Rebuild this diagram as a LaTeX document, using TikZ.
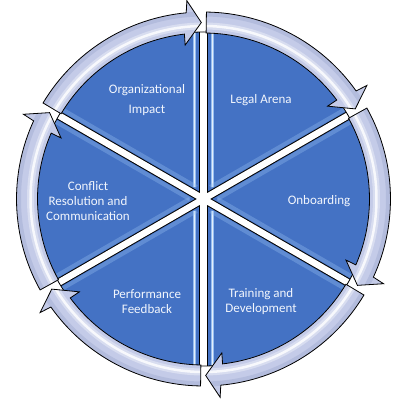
\documentclass[tikz,border=0pt]{standalone}
\usepackage{fontspec}
\setmainfont{Carlito}
\definecolor{wedgeblue}{RGB}{68,114,196}
\definecolor{lav}{RGB}{196,203,232}
\definecolor{lavdark}{RGB}{168,178,214}
\definecolor{stripe}{RGB}{150,190,240}
\definecolor{txt}{RGB}{242,246,253}
% #1 tail angle, #2 tip angle (clockwise arrow)
\newcommand\ringpath[2]{({#1-0.9}:187) arc[start angle={#1-0.9}, end angle={#2+5.3}, radius=187]
  -- ({#2+4.8}:199) -- ({#2+0.7}:176.5) -- ({#2+6.8}:155) -- ({#2+6.6}:166)
  arc[start angle={#2+6.6}, end angle={#1-0.9}, radius=166] -- cycle}
\begin{document}
\begin{tikzpicture}[x=1pt,y=1pt,
  lbl/.style={text=txt, font=\fontsize{13}{15}\selectfont, align=center, inner sep=0pt},
  outline/.style={black, line width=0.8pt, line join=miter}]
\useasboundingbox (-203.5,-208) rectangle (212.5,199);
% wedges
\begin{scope}
  \clip (0,0) circle (167);
  \fill[wedgeblue] (0,0) circle (167);
  \foreach \t in {90,-90}{
    \begin{scope}[rotate=\t]
      \draw[stripe, line width=3.5pt] (12,9) -- (175,9) (12,-9) -- (175,-9);
      \draw[white, line width=0.8pt, opacity=0.75] (12,9) -- (175,9) (12,-9) -- (175,-9);
    \end{scope}}
  \foreach \t in {30,-30,150,-150}{
    \begin{scope}[rotate=\t]
      \draw[stripe, line width=4pt, opacity=0.35] (12,7) -- (175,7) (12,-7) -- (175,-7);
    \end{scope}}
  \foreach \t in {90,30,-30}
    \draw[black, line width=8.5pt] (\t+180:180) -- (\t:180);
  \foreach \t in {90,30,-30}
    \draw[white, line width=6.5pt] (\t+180:180) -- (\t:180);
\end{scope}
\draw[outline] (0,0) circle (167);
% ring arrows
\foreach \a in {90,30,-30,-90,-150,-210}{
  \pgfmathsetmacro\b{\a-60}
  \begin{scope}
    \clip \ringpath{\a}{\b};
    \fill[lav] (0,0) circle (205);
    \draw[lavdark, line width=5pt, opacity=0.6] (0,0) circle (185);
    \draw[white, line width=7pt, opacity=0.35] (0,0) circle (173);
    \draw[white, line width=2.5pt, opacity=0.8] (0,0) circle (173);
  \end{scope}
  \draw[outline] \ringpath{\a}{\b};
}
% labels
\node[lbl, font=\fontsize{13}{20}\selectfont] (org) at (-56.5,99) {Organizational\\Impact};
\node[lbl] (legal) at (57.5,99) {Legal Arena};
\node[lbl] (onb) at (115.5,-2) {Onboarding};
\node[lbl] (train) at (57.5,-102.5) {Training and\\Development};
\node[lbl] (perf) at (-56.5,-102.5) {Performance\\Feedback};
\node[lbl] (conf) at (-115.5,-2) {Conflict\\Resolution and\\Communication};
\end{tikzpicture}
\end{document}
